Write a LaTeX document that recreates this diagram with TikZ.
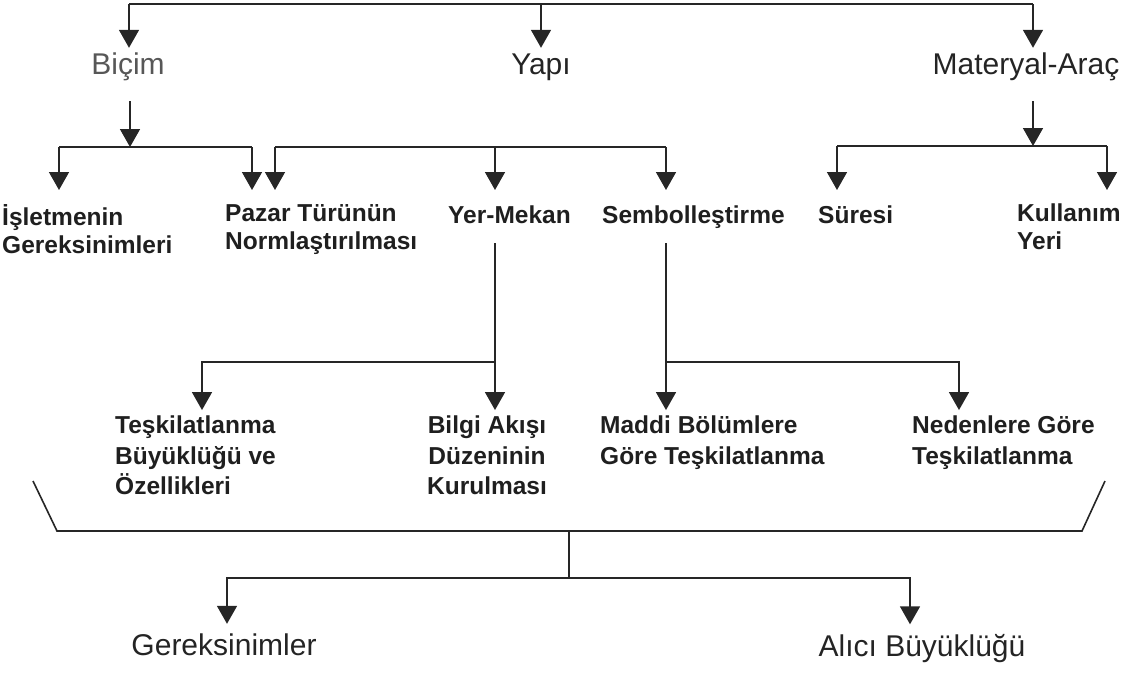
\documentclass[tikz,border=0pt]{standalone}
\usepackage{fontspec}
\setmainfont{Liberation Sans}
\usetikzlibrary{arrows.meta}

\begin{document}
\begin{tikzpicture}[x=1pt,y=-1pt,
    ln/.style={line width=1.6pt, draw=black!85},
    arr/.style={ln, -{Triangle[width=20pt,length=18pt]}, shorten >=#1},
    arr/.default=0pt,
    mainlbl/.style={font=\fontsize{30}{34}\selectfont, text=black!86, inner sep=0pt, text height=22pt, text depth=6pt, anchor=base},
    sublbl/.style={font=\fontsize{24.5}{28}\selectfont\bfseries, text=black!88, align=left, inner sep=0pt, anchor=north west, execute at begin node=\strut},
    sublbltall/.style={sublbl, font=\fontsize{24.5}{30.5}\selectfont\bfseries}]

    \useasboundingbox (0,0) rectangle (1140,672);

    % first level
    \node[mainlbl, text=black!66] (bicim) at (128,74) {Biçim};
    \node[mainlbl] (yapi) at (541,74) {Yapı};
    \node[mainlbl] (materyal) at (1026,74) {Materyal-Araç};

    \coordinate (topL) at (129,4);
    \coordinate (topR) at (1033,4);
    \draw[ln] (topL) -- (topR);
    \draw[arr=4pt] (topL) -- (topL |- bicim.north);
    \draw[arr=4pt] (yapi.north |- topL) -- (yapi.north);
    \draw[arr=4pt] (topR) -- (topR |- materyal.north);

    % second level
    \node[sublbl] (isletme) at (2,204) {İşletmenin\\Gereksinimleri};
    \node[sublbl] (pazar) at (225,204) {Pazar Türünün\\Normlaştırılması};
    \node[sublbl] (yermekan) at (448,204) {Yer-Mekan};
    \node[sublbl] (sembol) at (602,204) {Sembolleştirme};
    \node[sublbl] (suresi) at (818,204) {Süresi};
    \node[sublbl] (kullanim) at (1017,204) {Kullanım\\Yeri};

    \coordinate (bicimbar) at (130,147);
    \coordinate (isbar) at (59,147);
    \coordinate (pzbarA) at (252,147);
    \draw[arr, shorten <=21pt] (bicimbar |- bicim.south) -- (bicimbar);
    \draw[ln] (isbar) -- (pzbarA);
    \draw[arr=14pt] (isbar) -- (isbar |- isletme.north);
    \draw[arr=14pt] (pzbarA) -- (pzbarA |- pazar.north);

    \coordinate (pzbarB) at (275,147);
    \coordinate (ymbar) at (495,147);
    \coordinate (sbbar) at (666,147);
    \draw[ln] (pzbarB) -- (sbbar);
    \draw[arr=14pt] (pzbarB) -- (pzbarB |- pazar.north);
    \draw[arr=14pt] (ymbar) -- (ymbar |- yermekan.north);
    \draw[arr=14pt] (sbbar) -- (sbbar |- sembol.north);

    \coordinate (matbar) at (1033,146);
    \coordinate (srbar) at (837,146);
    \coordinate (kubar) at (1107,146);
    \draw[arr, shorten <=21pt] (matbar |- materyal.south) -- (matbar);
    \draw[ln] (srbar) -- (kubar);
    \draw[arr=14pt] (srbar) -- (srbar |- suresi.north);
    \draw[arr=14pt] (kubar) -- (kubar |- kullanim.north);

    % third level
    \node[sublbltall] (teskil) at (115,415.65) {Teşkilatlanma\\Büyüklüğü ve\\Özellikleri};
    \node[sublbltall, anchor=north, align=center] (bilgi) at (487,415.65) {Bilgi Akışı\\Düzeninin\\Kurulması};
    \node[sublbltall] (maddi) at (600,415.65) {Maddi Bölümlere\\Göre Teşkilatlanma};
    \node[sublbltall] (neden) at (912,415.65) {Nedenlere Göre\\Teşkilatlanma};

    \coordinate (ymlow) at (495,362);
    \coordinate (tkbar) at (202,362);
    \draw[arr=5.6pt, shorten <=11pt] (ymlow |- yermekan.south) -- (ymlow |- bilgi.north);
    \draw[arr=5.6pt] (ymlow) -- (tkbar) -- (tkbar |- teskil.north);

    \coordinate (sblow) at (666,362);
    \coordinate (ndbar) at (959,362);
    \draw[arr=5.6pt, shorten <=11pt] (sblow |- sembol.south) -- (sblow |- maddi.north);
    \draw[arr=5.6pt] (sblow) -- (ndbar) -- (ndbar |- neden.north);

    % bracket and last level
    \draw[ln] (33,481) -- (57,531) -- (1082,531) -- (1105,481);

    \node[mainlbl] (gerek) at (224,655) {Gereksinimler};
    \node[mainlbl] (alici) at (922,656) {Alıcı Büyüklüğü};

    \coordinate (brk) at (569,531);
    \coordinate (lowbar) at (569,578);
    \coordinate (gkbar) at (227,578);
    \coordinate (albar) at (910,578);
    \draw[ln] (brk) -- (lowbar);
    \draw[arr=9pt] (lowbar) -- (gkbar) -- (gkbar |- gerek.north);
    \draw[arr=9.5pt] (lowbar) -- (albar) -- (albar |- alici.north);

\end{tikzpicture}
\end{document}
